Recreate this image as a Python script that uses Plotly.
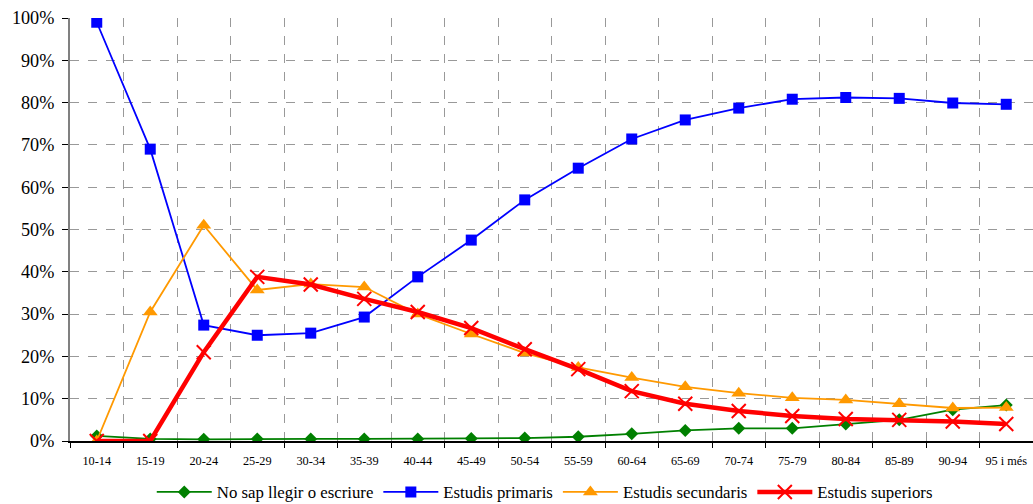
import plotly.graph_objects as go

categories = ["10-14", "15-19", "20-24", "25-29", "30-34", "35-39", "40-44", "45-49", "50-54",
              "55-59", "60-64", "65-69", "70-74", "75-79", "80-84", "85-89", "90-94", "95 i més"]

no_sap = [1.2, 0.5, 0.4, 0.5, 0.5, 0.5, 0.5, 0.6, 0.7, 1.0, 1.7, 2.5, 3.0, 3.0, 4.0, 5.0, 7.4, 8.5]
primaris = [99.0, 69.0, 27.4, 25.0, 25.5, 29.3, 38.8, 47.5, 57.0, 64.5, 71.4, 75.9, 78.7, 80.8, 81.2, 81.0, 79.9, 79.6]
secundaris = [0.0, 30.5, 51.0, 35.7, 37.1, 36.4, 30.0, 25.3, 20.8, 17.4, 15.0, 12.8, 11.3, 10.2, 9.7, 8.8, 7.8, 7.9]
superiors = [0.0, 0.0, 21.0, 38.8, 37.0, 33.6, 30.5, 26.7, 21.7, 17.0, 11.8, 8.8, 7.1, 5.9, 5.2, 5.0, 4.6, 4.0]

names = ["No sap llegir o escriure", "Estudis primaris", "Estudis secundaris", "Estudis superiors"]
colors = ["#008000", "#0000FF", "#FF9900", "#FF0000"]
symbols = ["diamond", "square", "triangle-up", "x-thin"]
widths = [1.8, 1.8, 1.8, 4.5]
msizes = [10, 11, 13, 14]

SERIF = "Liberation Serif, Times New Roman, serif"

fig = go.Figure()
for vals, name, col, sym, w, ms in zip([no_sap, primaris, secundaris, superiors], names, colors, symbols, widths, msizes):
    marker = dict(symbol=sym, size=ms, color=col)
    if sym == "x-thin":
        marker["line"] = dict(color=col, width=2)
    fig.add_trace(go.Scatter(
        x=categories, y=[v / 100 for v in vals], name=name, mode="lines+markers",
        line=dict(color=col, width=w), marker=marker,
    ))

fig.update_layout(
    width=1033, height=504,
    margin=dict(l=70, r=0, t=18, b=63, autoexpand=False),
    plot_bgcolor="white", paper_bgcolor="white",
    font=dict(family=SERIF, color="black"),
    legend=dict(orientation="h", x=0.493, xanchor="center", y=-0.1206, yanchor="middle",
                font=dict(size=16.8, family=SERIF), itemwidth=55, tracegroupgap=0),
)
fig.update_xaxes(
    type="category", range=[-0.5, 17.5], tickson="boundaries", automargin=False,
    showgrid=True, gridcolor="#999999", griddash="dash", gridwidth=1,
    showline=True, linecolor="black", linewidth=1.5,
    ticks="outside", ticklen=5, tickcolor="black",
    tickfont=dict(size=12.3, family=SERIF), ticklabelstandoff=7,
)
fig.update_yaxes(
    range=[0, 1.0], dtick=0.1, tickformat=".0%", automargin=False,
    showgrid=True, gridcolor="#999999", griddash="dash", gridwidth=1,
    zeroline=False,
    showline=True, linecolor="#808080", linewidth=2,
    ticks="outside", ticklen=6, tickcolor="black",
    tickfont=dict(size=18.2, family=SERIF), ticklabelstandoff=4,
)

fig.write_html("out.html", config={"displayModeBar": False},
               post_script="document.body.style.margin='0';document.body.style.overflow='hidden';")
